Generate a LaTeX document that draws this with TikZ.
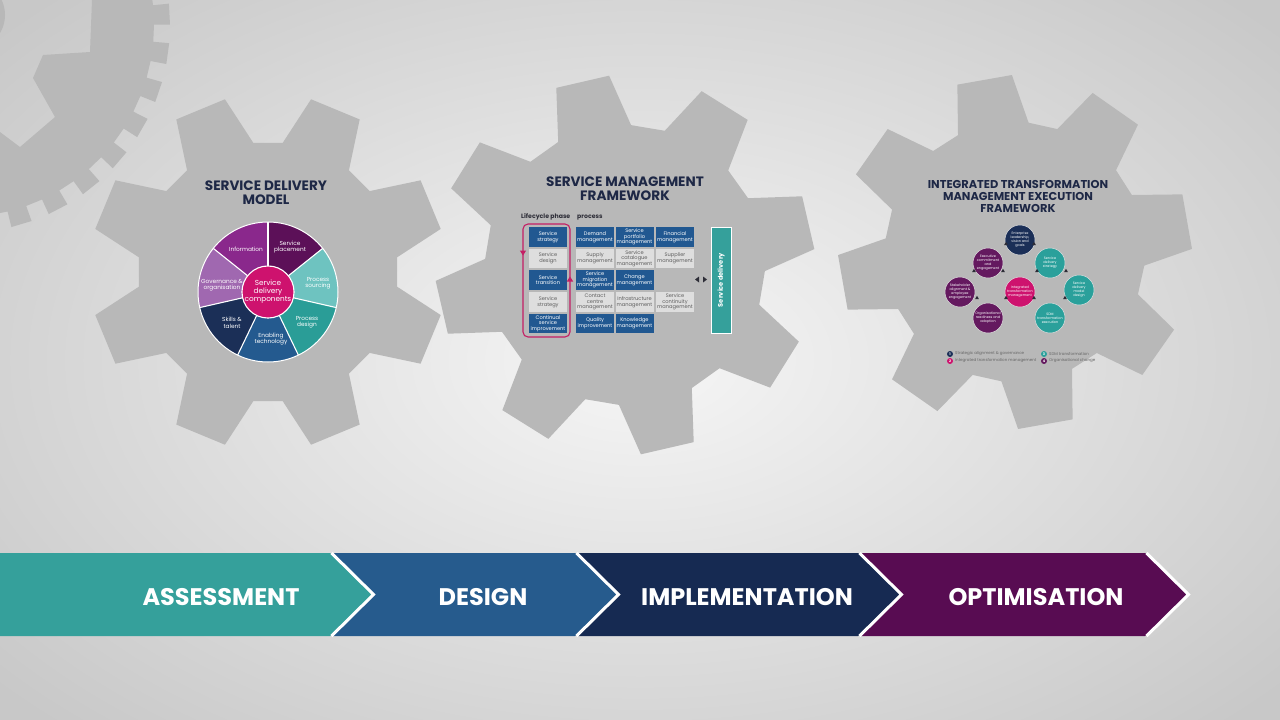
\documentclass[tikz,border=0pt]{standalone}
\usepackage{fontspec}
\setmainfont{Poppins}
\usetikzlibrary{shapes.geometric}
\definecolor{gearc}{RGB}{184,184,184}
\definecolor{ttl}{RGB}{30,40,70}
\definecolor{cteal}{RGB}{53,160,155}
\definecolor{cblue}{RGB}{38,91,141}
\definecolor{cnavy}{RGB}{22,42,82}
\definecolor{cpurp}{RGB}{88,12,82}
\definecolor{pplace}{RGB}{92,16,88}
\definecolor{psrc}{RGB}{110,195,192}
\definecolor{pdes}{RGB}{42,157,151}
\definecolor{ptech}{RGB}{36,90,143}
\definecolor{pskill}{RGB}{27,47,87}
\definecolor{pgov}{RGB}{160,104,176}
\definecolor{pinfo}{RGB}{138,40,140}
\definecolor{pmag}{RGB}{206,18,110}
\definecolor{tblue}{RGB}{33,88,145}
\definecolor{tgray}{RGB}{222,222,222}
\definecolor{tgtext}{RGB}{95,95,95}
\definecolor{pinkl}{RGB}{196,30,100}
\definecolor{inavy}{RGB}{27,47,87}
\definecolor{ipurp}{RGB}{100,25,95}
\definecolor{iteal}{RGB}{42,160,155}
\definecolor{darkm}{RGB}{45,45,55}
\definecolor{bgin}{RGB}{246,246,246}
\definecolor{bgout}{RGB}{200,200,200}

\newcommand{\gearshape}[7]{%
  \begin{scope}[shift={(#1,#2)}]
    \fill[gearc] ({#3-#7}:#5) \foreach \k in {0,...,7}{ -- ({#3+45*\k-#7}:#5) -- ({#3+45*\k-#6}:#4) -- ({#3+45*\k+#6}:#4) -- ({#3+45*\k+#7}:#5)} -- cycle;
  \end{scope}}

\begin{document}
\begin{tikzpicture}[x=1pt,y=-1pt,
  ttlf/.style={font=\fontsize{13.6}{14}\selectfont\bfseries, text=ttl, align=center, inner sep=0},
  pielab/.style={font=\fontsize{5.8}{6.4}\selectfont, text=white, align=center, inner sep=0},
  tbox/.style={minimum width=38, minimum height=19.5, inner sep=0, align=center, font=\fontsize{5.1}{5.6}\selectfont},
  tb/.style={tbox, fill=tblue, text=white},
  tg/.style={tbox, fill=tgray, text=tgtext},
  itm/.style={circle, minimum size=30, inner sep=0, align=center, text=white, font=\fontsize{3.4}{3.9}\selectfont, draw=white!75!gray, line width=0.5},
  tri/.style={regular polygon, regular polygon sides=3, fill=darkm, minimum size=4.5, inner sep=0},
  lgc/.style={circle, minimum size=6, inner sep=0, text=white, font=\fontsize{3.5}{4}\selectfont\bfseries},
  lgt/.style={anchor=west, inner sep=0, text=gray!80!black, font=\fontsize{4}{4.5}\selectfont},
  chev/.style={font=\fontsize{24}{24}\selectfont\bfseries, text=white, inner sep=0},
  sep/.style={white, line width=3, line join=miter}
]
\useasboundingbox (0,0) rectangle (1280,720);
\clip (0,0) rectangle (1280,720);
\shade[inner color=bgin, outer color=bgout] (-200,-150) rectangle (1480,870);

% big partial gear top-left
\begin{scope}[shift={(-38,25)}]
  \fill[gearc, even odd rule] (-8.45:192) \foreach \k in {0,...,32}{ -- ({-3+10.909*\k-2.9}:192) -- ({-3+10.909*\k-2.9}:208) -- ({-3+10.909*\k+2.9}:208) -- ({-3+10.909*\k+2.9}:192)} -- cycle
    (130,-30) -- (130,-25) -- (128,27) -- (81,30) -- (71,53) -- (93,92) -- (58,122) -- (38,107) -- (28,100) -- (28,-30) -- cycle;
  \fill[gearc] (8,-10) circle[radius=35];
\end{scope}

% three gears
\gearshape{268}{272}{22.5}{178}{130}{8.5}{16}
\gearshape{625}{265}{32}{190}{140}{8.2}{15.5}
\gearshape{1015}{252}{35}{177}{130}{9}{16}

% ---------- Service delivery model ----------
\node[ttlf] (t1) at (266,193) {SERVICE DELIVERY\\MODEL};
\begin{scope}[shift={(268,292)}]
  \fill[pplace] (0,0) -- (-90:70) arc[start angle=-90, end angle=-38.57, radius=70] -- cycle;
  \fill[psrc] (0,0) -- (-38.57:70) arc[start angle=-38.57, end angle=12.86, radius=70] -- cycle;
  \fill[pdes] (0,0) -- (12.86:70) arc[start angle=12.86, end angle=64.29, radius=70] -- cycle;
  \fill[ptech] (0,0) -- (64.29:70) arc[start angle=64.29, end angle=115.71, radius=70] -- cycle;
  \fill[pskill] (0,0) -- (115.71:70) arc[start angle=115.71, end angle=167.14, radius=70] -- cycle;
  \fill[pgov] (0,0) -- (167.14:70) arc[start angle=167.14, end angle=218.57, radius=70] -- cycle;
  \fill[pinfo] (0,0) -- (218.57:70) arc[start angle=218.57, end angle=270, radius=70] -- cycle;
  \foreach \a in {-90,-38.57,12.86,64.29,115.71,167.14,218.57}
    \draw[white, line width=1.1] (0,0) -- (\a:70);
  \draw[white, line width=1] (0,0) circle[radius=70];
\end{scope}
\node[pielab] (p1) at (246,249) {Information};
\node[pielab] (p2) at (290,247) {Service\\placement};
\node[pielab] (p3) at (318,283) {Process\\sourcing};
\node[pielab] (p4) at (307,322) {Process\\design};
\node[pielab] (p5) at (271,339) {Enabling\\technology};
\node[pielab] (p6) at (232,323) {Skills \&\\talent};
\node[pielab] (p7) at (222,285) {Governance \&\\organisation};
\node[circle, fill=pmag, draw=white, line width=1.1, minimum size=50, inner sep=0, align=center, text=white, font=\fontsize{7.3}{8}\selectfont] (pc) at (268,292) {Service\\delivery\\components};

% ---------- Service management framework ----------
\node[ttlf] (t2) at (625,188.5) {SERVICE MANAGEMENT\\FRAMEWORK};
\node[anchor=base west, inner sep=0, font=\fontsize{6.2}{6.6}\selectfont\bfseries, text=darkm] (lp) at (521,218) {Lifecycle phase};
\node[anchor=base west, inner sep=0, font=\fontsize{6.2}{6.6}\selectfont\bfseries, text=darkm] (pr) at (577,218) {process};

\node[tb] (a1) at (548,237) {Service\\strategy};
\node[tg] (a2) at (548,258.5) {Service\\design};
\node[tb] (a3) at (548,280) {Service\\transition};
\node[tg] (a4) at (548,302) {Service\\strategy};
\node[tb] (a5) at (548,323.5) {Continual\\service\\improvement};

\node[tb] (b1) at (595,237) {Demand\\management};
\node[tb] (c1) at (634.5,237) {Service\\portfolio\\management};
\node[tb] (d1) at (675,237) {Financial\\management};
\node[tg] (b2) at (595,258.5) {Supply\\management};
\node[tg] (c2) at (634.5,258.5) {Service\\catalogue\\management};
\node[tg] (d2) at (675,258.5) {Supplier\\management};
\node[tb] (b3) at (595,280) {Service\\migration\\management};
\node[tb] (c3) at (634.5,280) {Change\\management};
\node[tg] (b4) at (595,302) {Contact\\centre\\management};
\node[tg] (c4) at (634.5,302) {Infrastructure\\management};
\node[tg] (d4) at (675,302) {Service\\continuity\\management};
\node[tb] (b5) at (595,323.5) {Quality\\improvement};
\node[tb] (c5) at (634.5,323.5) {Knowledge\\management};

\draw[pinkl, line width=1.1, rounded corners=5] (523,224) rectangle (570,337);
\fill[pinkl] (519.8,250.5) -- (526.2,250.5) -- (523,255.5) -- cycle;
\fill[pinkl] (566.8,281.5) -- (573.2,281.5) -- (570,276.5) -- cycle;

\node[fill=cteal, draw=white, line width=0.6, minimum width=20, minimum height=106, inner sep=0] (sd) at (721,280) {};
\node[rotate=90, text=white, font=\fontsize{6.6}{7}\selectfont\bfseries, inner sep=0] (sdl) at (721,280) {Service delivery};
\fill[darkm] (699,276.5) -- (699,282.5) -- (695,279.5) -- cycle;
\fill[darkm] (703,276.5) -- (703,282.5) -- (707,279.5) -- cycle;

% ---------- ITM execution framework ----------
\node[ttlf, font=\fontsize{11.4}{12}\selectfont\bfseries] (t3) at (1018,196) {INTEGRATED TRANSFORMATION\\MANAGEMENT EXECUTION\\FRAMEWORK};
\node[itm, fill=inavy] (e1) at (1020,240) {Enterprise\\leadership,\\vision and\\goals};
\node[itm, fill=ipurp] (e2) at (988,263) {Executive\\commitment\\and\\engagement};
\node[itm, fill=iteal] (e3) at (1050,263) {Service\\delivery\\strategy};
\node[itm, fill=ipurp] (e4) at (960,292) {Stakeholder\\alignment \&\\employee\\engagement};
\node[itm, fill=pmag] (e5) at (1020,292) {Integrated\\transformation\\management};
\node[itm, fill=iteal] (e6) at (1079,290) {Service\\delivery\\model\\design};
\node[itm, fill=ipurp] (e7) at (988,318) {Organisational\\readiness and\\adoption};
\node[itm, fill=iteal] (e8) at (1050,318) {SDM\\transformation\\execution};
\foreach \p/\q [count=\i] in {1006/244,1034/244,974/271,1003/271,1037/271,1066/271,1006/298,1034/298,977/298,1065/298}
  \node[tri] (tr\i) at (\p,\q) {};

\node[lgc, fill=inavy] (l1) at (950,354) {1};
\node[lgt] (l1t) at (955,354) {Strategic alignment \& governance};
\node[lgc, fill=pmag] (l2) at (950,361) {2};
\node[lgt] (l2t) at (955,361) {Integrated transformation management};
\node[lgc, fill=iteal] (l3) at (1044,354) {3};
\node[lgt] (l3t) at (1049,354) {SDM transformation};
\node[lgc, fill=ipurp] (l4) at (1044,361) {4};
\node[lgt] (l4t) at (1049,361) {Organisational change};

% ---------- phase chevrons ----------
\fill[cteal] (-5,553) -- (330,553) -- (372,594.5) -- (330,636) -- (-5,636) -- cycle;
\fill[cblue] (333,553) -- (575,553) -- (617,594.5) -- (575,636) -- (333,636) -- (375,594.5) -- cycle;
\fill[cnavy] (578,553) -- (858,553) -- (900,594.5) -- (858,636) -- (578,636) -- (620,594.5) -- cycle;
\fill[cpurp] (861,553) -- (1145,553) -- (1187,594.5) -- (1145,636) -- (861,636) -- (903,594.5) -- cycle;
\draw[sep] (331.5,553) -- (373.5,594.5) -- (331.5,636);
\draw[sep] (576.5,553) -- (618.5,594.5) -- (576.5,636);
\draw[sep] (859.5,553) -- (901.5,594.5) -- (859.5,636);
\draw[sep] (1146.5,553) -- (1188.5,594.5) -- (1146.5,636);
\node[chev] (h1) at (221,597.5) {ASSESSMENT};
\node[chev] (h2) at (483,597.5) {DESIGN};
\node[chev] (h3) at (747,597.5) {IMPLEMENTATION};
\node[chev] (h4) at (1036,597.5) {OPTIMISATION};
\end{tikzpicture}
\end{document}
